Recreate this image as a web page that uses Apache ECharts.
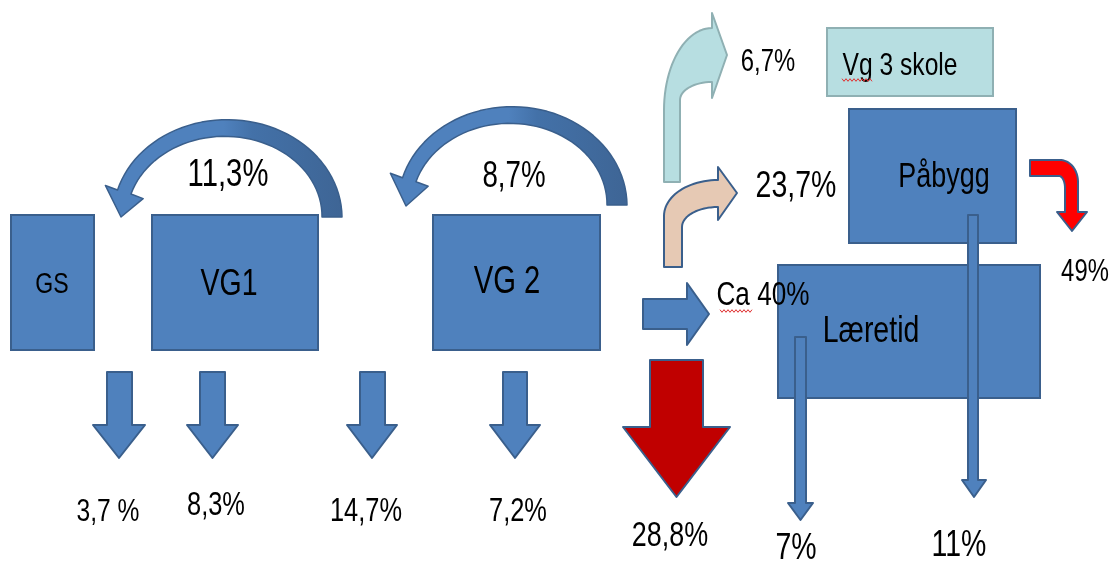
<!DOCTYPE html>
<html><head><meta charset="utf-8">
<script src="https://cdn.jsdelivr.net/npm/echarts@6/dist/echarts.min.js"></script>
<style>html,body{margin:0;padding:0;background:#fff}#c{width:1113px;height:561px}</style>
</head><body><div id="c"></div>
<script>
// ---------------- data ----------------
const stages = ['GS', 'VG1', 'VG 2'];
const destinations = ['Vg 3 skole', 'Påbygg', 'Læretid'];
const dropoutValues = [3.7, 8.3, 14.7, 7.2, 28.8];
const dropoutLabels = ['3,7 %', '8,3%', '14,7%', '7,2%', '28,8%'];
const repeatValues = [11.3, 8.7];
const repeatLabels = ['11,3%', '8,7%'];
const transitionValues = [6.7, 23.7, 40];
const transitionLabels = ['6,7%', '23,7%', 'Ca 40%'];
const outcomeValues = [49, 7, 11];
const outcomeLabels = ['49%', '7%', '11%'];

// ---------------- layout (axis units) & style ----------------
const BLUE = '#4F81BD', BLUE_EDGE = '#3A5F8C', LIGHT = '#B7DEE1', LIGHT_EDGE = '#8FB0B3',
      TAN = '#E6C9B4', RED = '#FF0000', DARKRED = '#C00000';
const FONT = '"Liberation Sans", Arial, sans-serif';
const SX = 0.77;

const stageLayout = [
  { r: [11, 215, 94, 350], t: [52, 285], fs: 30 },
  { r: [152, 215, 318, 350], t: [229, 285], fs: 37 },
  { r: [433, 215, 600, 350], t: [507, 283], fs: 38 }
];
const destLayout = [
  { r: [827, 28, 993, 96], t: [900, 66], fs: 32, fill: LIGHT, edge: LIGHT_EDGE, wave: [842, 873, 80] },
  { r: [849, 109, 1016, 243], t: [944, 177], fs: 35 },
  { r: [778, 265, 1040, 398], t: [871, 332], fs: 37 }
];
// down arrows: shaft x0,x1, top, neck, head x0,x1, tip y ; label pos
const dropLayout = [
  { s: [107, 132], y0: 372, neck: 425, h: [93, 145], tip: 458, t: [108, 512], fs: 32, fill: BLUE },
  { s: [200, 225], y0: 372, neck: 425, h: [187, 238], tip: 458, t: [216, 506], fs: 33, fill: BLUE },
  { s: [360, 385], y0: 372, neck: 425, h: [347, 397], tip: 458, t: [366, 512], fs: 33, fill: BLUE },
  { s: [503, 527], y0: 372, neck: 425, h: [490, 540], tip: 458, t: [518, 512], fs: 33, fill: BLUE },
  { s: [650, 703], y0: 360, neck: 427, h: [623, 730], tip: 497, t: [670, 536], fs: 35, fill: DARKRED }
];
const repeatLayout = [
  { cx: 226, cy: 217, rx: 106, ry: 89, w0: 20, w1: 14, te: 163.7, hw: 20, tip: [121, 217], t: [228, 176], fs: 38 },
  { cx: 511, cy: 205, rx: 106, ry: 90, w0: 20, w1: 14, te: 163.7, hw: 20, tip: [406, 206], t: [514, 177], fs: 36 }
];
const transitionLayout = [
  { kind: 'bentUp', L: 664, R: 680, B: 182, T: 28, Bh: 82, Hx: 712, hTop: 13, hBot: 98, tip: [727, 55],
    orx: 48, ory: 82, irx: 32, iry: 18, fill: LIGHT, edge: LIGHT_EDGE, t: [768, 62], fs: 31 },
  { kind: 'bentUp', L: 664, R: 682, B: 267, T: 180, Bh: 207, Hx: 718, hTop: 167, hBot: 220, tip: [737, 193],
    orx: 54, ory: 36, irx: 36, iry: 20, fill: TAN, edge: BLUE_EDGE, t: [796, 187], fs: 37 },
  { kind: 'right', s: [643, 687], y: [299, 329], h: [283, 345], tip: [709, 314], fill: BLUE, edge: BLUE_EDGE,
    t: [763, 296], fs: 34, wave: [720, 752, 311] }
];
const outcomeLayout = [
  { kind: 'bentDown', Lx: 1030, T: 160, Bb: 176, VL: 1065, VR: 1078, Hy: 212, h: [1057, 1087], tip: [1072, 231],
    orx: 18, ory: 22, irx: 6, iry: 12, fill: RED, t: [1085, 272], fs: 31 },
  { kind: 'thin', s: [795, 806], y0: 337, neck: 503, h: [788, 813], tip: 520, t: [796, 549], fs: 37 },
  { kind: 'thin', s: [968, 978], y0: 215, neck: 480, h: [962, 986], tip: 497, t: [959, 546], fs: 37 }
];

// ---------------- helpers ----------------
function mapPts(api, pts) { return pts.map(p => api.coord(p)); }
function text(api, s, pos, fs, align) {
  const p = api.coord(pos);
  return { type: 'text', x: p[0], y: p[1], scaleX: SX, z2: 10,
    style: { text: s, x: 0, y: 0, align: align || 'center', verticalAlign: 'middle', font: fs + 'px ' + FONT, fill: '#000' } };
}
function wave(api, w) {
  const pts = [];
  for (let x = w[0], k = 0; x <= w[1]; x += 2, k++) pts.push([x, w[2] + (k % 2 ? 1.3 : -1.3)]);
  return { type: 'polyline', z2: 11, shape: { points: mapPts(api, pts) }, style: { stroke: '#E03030', lineWidth: 1, fill: null } };
}
function rectEl(api, r, fill, edge) {
  const a = api.coord([r[0], r[1]]), b = api.coord([r[2], r[3]]);
  return { type: 'rect', shape: { x: a[0], y: a[1], width: b[0] - a[0], height: b[1] - a[1] },
    style: { fill: fill || BLUE, stroke: edge || BLUE_EDGE, lineWidth: 2 } };
}
function downArrowPts(d) {
  const cx = (d.h[0] + d.h[1]) / 2;
  return [[d.s[0], d.y0], [d.s[1], d.y0], [d.s[1], d.neck], [d.h[1], d.neck], [cx, d.tip], [d.h[0], d.neck], [d.s[0], d.neck]];
}
function arc(cx, cy, rx, ry, a0, a1, n) {
  const out = [];
  for (let k = 0; k <= n; k++) {
    const a = (a0 + (a1 - a0) * k / n) * Math.PI / 180;
    out.push([cx + rx * Math.cos(a), cy + ry * Math.sin(a)]);
  }
  return out;
}
function poly(api, pts, fill, edge, lw) {
  return { type: 'polygon', shape: { points: mapPts(api, pts) }, style: { fill: fill, stroke: edge || BLUE_EDGE, lineWidth: lw || 2, lineJoin: 'round' } };
}

// ---------------- chart ----------------
const chart = echarts.init(document.getElementById('c'), null, { renderer: 'canvas' });
const idx = arr => arr.map((v, i) => [i, typeof v === 'number' ? v : 0]);

chart.setOption({
  animation: false,
  backgroundColor: '#fff',
  grid: { left: 0, right: 0, top: 0, bottom: 0 },
  xAxis: { type: 'value', min: 0, max: 1113, show: false },
  yAxis: { type: 'value', min: 0, max: 561, inverse: true, show: false },
  series: [
    { // stage boxes
      type: 'custom', data: idx(stages),
      renderItem: (p, api) => {
        const i = p.dataIndex, L = stageLayout[i];
        return { type: 'group', children: [rectEl(api, L.r), text(api, stages[i], L.t, L.fs)] };
      }
    },
    { // repeat curved arrows
      type: 'custom', data: idx(repeatValues),
      renderItem: (p, api) => {
        const i = p.dataIndex, c = repeatLayout[i];
        const outer = [], inner = [], N = 48;
        for (let k = 0; k <= N; k++) {
          const t = k / N, th = c.te * t * Math.PI / 180, w = c.w0 + (c.w1 - c.w0) * t;
          outer.push([c.cx + (c.rx + w / 2) * Math.cos(th), c.cy - (c.ry + w / 2) * Math.sin(th)]);
          inner.push([c.cx + (c.rx - w / 2) * Math.cos(th), c.cy - (c.ry - w / 2) * Math.sin(th)]);
        }
        const th = c.te * Math.PI / 180;
        const ex = c.cx + c.rx * Math.cos(th), ey = c.cy - c.ry * Math.sin(th);
        let nx = Math.cos(th) / c.rx, ny = -Math.sin(th) / c.ry; const nl = Math.hypot(nx, ny); nx /= nl; ny /= nl;
        const pts = outer.concat([[ex + nx * c.hw, ey + ny * c.hw], c.tip, [ex - nx * c.hw, ey - ny * c.hw]], inner.reverse());
        const grad = { type: 'linear', x: 0, y: 0, x2: 1, y2: 0, colorStops: [
          { offset: 0, color: BLUE }, { offset: 0.5, color: BLUE }, { offset: 0.62, color: '#4371A8' }, { offset: 1, color: '#3E6595' }] };
        return { type: 'group', children: [poly(api, pts, grad, BLUE_EDGE, 1.5), text(api, repeatLabels[i], c.t, c.fs)] };
      }
    },
    { // dropout arrows
      type: 'custom', data: idx(dropoutValues),
      renderItem: (p, api) => {
        const i = p.dataIndex, d = dropLayout[i];
        return { type: 'group', children: [poly(api, downArrowPts(d), d.fill, BLUE_EDGE, 2), text(api, dropoutLabels[i], d.t, d.fs)] };
      }
    },
    { // destination boxes
      type: 'custom', data: idx(destinations),
      renderItem: (p, api) => {
        const i = p.dataIndex, L = destLayout[i];
        const ch = [rectEl(api, L.r, L.fill, L.edge), text(api, destinations[i], L.t, L.fs)];
        if (L.wave) ch.push(wave(api, L.wave));
        return { type: 'group', children: ch };
      }
    },
    { // transitions out of VG2
      type: 'custom', data: idx(transitionValues),
      renderItem: (p, api) => {
        const i = p.dataIndex, a = transitionLayout[i];
        let pts;
        if (a.kind === 'bentUp') {
          pts = [[a.L, a.B], [a.L, a.T + a.ory]]
            .concat(arc(a.L + a.orx, a.T + a.ory, a.orx, a.ory, 180, 270, 24))
            .concat([[a.Hx, a.T], [a.Hx, a.hTop], a.tip, [a.Hx, a.hBot], [a.Hx, a.Bh]])
            .concat(arc(a.R + a.irx, a.Bh + a.iry, a.irx, a.iry, 270, 180, 16))
            .concat([[a.R, a.B]]);
        } else {
          pts = [[a.s[0], a.y[0]], [a.s[1], a.y[0]], [a.s[1], a.h[0]], a.tip, [a.s[1], a.h[1]], [a.s[1], a.y[1]], [a.s[0], a.y[1]]];
        }
        const ch = [poly(api, pts, a.fill, a.edge, 2)];
        ch.push(text(api, transitionLabels[i], a.t, a.fs));
        if (a.wave) ch.push(wave(api, a.wave));
        return { type: 'group', children: ch };
      }
    },
    { // outcomes
      type: 'custom', data: idx(outcomeValues),
      renderItem: (p, api) => {
        const i = p.dataIndex, a = outcomeLayout[i];
        let pts;
        if (a.kind === 'bentDown') {
          pts = [[a.Lx, a.T], [a.VR - a.orx, a.T]]
            .concat(arc(a.VR - a.orx, a.T + a.ory, a.orx, a.ory, 270, 360, 20))
            .concat([[a.VR, a.Hy], [a.h[1], a.Hy], a.tip, [a.h[0], a.Hy], [a.VL, a.Hy]])
            .concat(arc(a.VL - a.irx, a.Bb + a.iry, a.irx, a.iry, 0, -90, 12))
            .concat([[a.Lx, a.Bb]]);
        } else {
          pts = downArrowPts(a);
        }
        return { type: 'group', children: [poly(api, pts, a.kind === 'bentDown' ? a.fill : BLUE, BLUE_EDGE, 2),
          text(api, outcomeLabels[i], a.t, a.fs)] };
      }
    }
  ]
});
</script>
</body></html>
